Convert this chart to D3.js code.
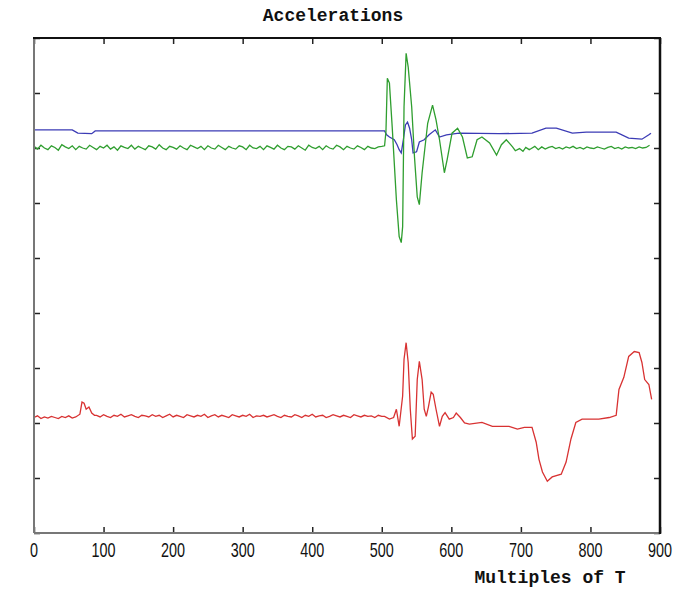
<!DOCTYPE html>
<html>
<head>
<meta charset="utf-8">
<script src="https://cdn.jsdelivr.net/npm/d3@7"></script>
<style>
  html, body { margin: 0; padding: 0; background: #ffffff; }
  svg { display: block; }
</style>
</head>
<body>
<svg id="chart" width="675" height="590"></svg>
<script>
// ---------------- DATA ----------------
const title = "Accelerations";
const xLabel = "Multiples of T";
const xTicks = [0, 100, 200, 300, 400, 500, 600, 700, 800, 900];
const yTicks = [0, 1, 2, 3, 4, 5, 6, 7, 8, 9]; // unlabeled ticks
const xDomain = [0, 900];
const yDomain = [0, 9];

// Blue series: [multiples of T, acceleration]
const blueSeries = [
  [0, 7.33], [55, 7.33], [63, 7.27], [83, 7.26], [88, 7.31], [504, 7.31],
  [507, 7.24], [511, 7.20], [518, 7.15], [522, 7.06], [525, 6.97], [528, 6.91],
  [531, 7.15], [534, 7.42], [537, 7.47], [540, 7.36], [543, 7.15], [545, 6.91],
  [550, 6.93], [554, 7.11], [561, 7.15], [568, 7.24], [577, 7.33], [583, 7.20],
  [593, 7.24], [611, 7.27], [669, 7.26], [716, 7.27], [736, 7.36], [751, 7.36],
  [774, 7.27], [794, 7.29], [837, 7.29], [855, 7.18], [874, 7.16], [884, 7.24],
  [887, 7.27]
];

// Green series: quiet start sampled every 5 T from 0, burst, quiet tail every 5 T from 715
const greenStartStep = 5;
const greenStart = [
  7.03,6.98,7.05,7.00,6.97,7.04,7.01,6.96,7.06,7.02,
  6.99,7.04,6.97,7.03,7.00,6.98,7.05,7.01,6.97,7.03,
  7.00,7.05,6.98,7.02,6.96,7.04,7.01,6.99,7.05,6.98,
  7.03,7.00,6.97,7.04,7.02,6.98,7.06,7.00,6.97,7.03,
  7.01,6.98,7.04,7.00,6.97,7.05,7.02,6.99,7.03,6.97,
  7.04,7.00,6.98,7.05,7.01,6.97,7.03,7.00,6.98,7.04,
  7.02,6.97,7.05,7.00,6.99,7.03,6.97,7.04,7.01,6.98,
  7.05,7.00,6.97,7.03,7.02,6.98,7.04,7.00,6.96,7.05,
  7.01,6.99,7.03,6.97,7.04,7.00,6.98,7.05,7.02,6.97,
  7.03,7.00,6.98,7.04,7.01,6.97,7.03,7.00,6.99,7.02,7.03
];
const greenBurst = [
  [504, 7.04], [506, 7.30], [508, 8.27], [511, 8.18], [515, 7.38], [521, 6.06],
  [525, 5.39], [528, 5.28], [530, 5.57], [532, 7.75], [535, 8.72], [538, 8.47],
  [543, 7.75], [547, 6.84], [551, 6.11], [554, 5.97], [558, 6.55], [566, 7.45],
  [573, 7.78], [578, 7.51], [583, 7.15], [590, 6.55], [594, 6.79], [601, 7.27],
  [609, 7.36], [616, 7.20], [623, 6.82], [630, 6.84], [637, 7.15], [644, 7.20],
  [655, 7.09], [665, 6.87], [672, 7.06], [679, 7.15], [684, 7.08], [688, 7.02],
  [692, 6.95], [698, 6.99], [703, 6.94], [707, 7.01], [712, 6.97]
];
const greenTailStart = 715;
const greenTailStep = 5;
const greenTail = [
  6.99,7.03,6.97,7.02,6.98,7.01,7.03,6.99,7.01,6.98,
  7.02,7.00,7.03,6.99,7.01,6.98,7.02,7.00,6.99,7.02,
  7.00,6.98,7.01,7.03,6.99,7.01,6.98,7.02,7.00,7.01,
  6.99,7.02,7.00,7.01,7.05
];

// Red series: quiet start (0..60 every 5 T), bump, quiet middle (90..500 every 5 T), burst
const redStartStep = 5;
const redStart = [2.10,2.13,2.08,2.11,2.09,2.12,2.10,2.08,2.12,2.10,2.13,2.09,2.11];
const redBump = [[66, 2.16], [69, 2.38], [72, 2.36], [75, 2.25], [79, 2.29], [83, 2.18], [87, 2.14]];
const redMidStart = 90;
const redMidStep = 5;
const redMid = [
  2.14,2.11,2.15,2.12,2.10,2.14,2.12,2.16,2.11,2.13,
  2.15,2.12,2.10,2.14,2.13,2.11,2.15,2.12,2.14,2.10,
  2.13,2.16,2.11,2.14,2.12,2.10,2.15,2.13,2.11,2.14,
  2.12,2.16,2.10,2.13,2.15,2.11,2.14,2.12,2.10,2.15,
  2.13,2.11,2.14,2.12,2.16,2.10,2.13,2.12,2.14,2.11,
  2.13,2.15,2.12,2.10,2.14,2.12,2.11,2.15,2.13,2.10,
  2.14,2.12,2.16,2.11,2.13,2.14,2.10,2.12,2.15,2.13,
  2.11,2.14,2.12,2.10,2.15,2.13,2.11,2.14,2.12,2.13,
  2.10,2.14,2.12
];
const redBurst = [
  [504, 2.12], [511, 2.07], [517, 2.10], [521, 2.25], [525, 1.94], [530, 2.49],
  [532, 3.16], [535, 3.46], [538, 3.10], [541, 2.25], [544, 1.71], [548, 1.76],
  [551, 2.79], [554, 3.12], [558, 2.79], [561, 2.25], [564, 2.12], [567, 2.29],
  [571, 2.56], [574, 2.52], [578, 2.25], [583, 1.94], [587, 2.12], [591, 2.19],
  [597, 2.07], [603, 2.10], [607, 2.18], [613, 2.10], [619, 2.00], [626, 1.98],
  [644, 2.01], [659, 1.94], [683, 1.94], [695, 1.89], [705, 1.92], [716, 1.92],
  [722, 1.65], [726, 1.34], [731, 1.11], [738, 0.94], [745, 1.02], [758, 1.07],
  [765, 1.29], [772, 1.71], [779, 2.01], [788, 2.07], [812, 2.07], [827, 2.10],
  [837, 2.14], [841, 2.61], [848, 2.83], [855, 3.21], [863, 3.30], [870, 3.28],
  [874, 3.10], [878, 2.79], [884, 2.70], [888, 2.43]
];

const colors = { blue: "#3b3bb5", green: "#2f9e2f", red: "#d83232" };

// ---------------- BUILD SERIES ----------------
const greenSeries = greenStart.map((v, i) => [i * greenStartStep, v])
  .concat(greenBurst)
  .concat(greenTail.map((v, i) => [greenTailStart + i * greenTailStep, v]));
const redSeries = redStart.map((v, i) => [i * redStartStep, v])
  .concat(redBump)
  .concat(redMid.map((v, i) => [redMidStart + i * redMidStep, v]))
  .concat(redBurst);

// ---------------- LAYOUT ----------------
const svg = d3.select("#chart");
const plot = { left: 34, right: 660, top: 38, bottom: 533 };

const x = d3.scaleLinear().domain(xDomain).range([plot.left, plot.right]);
const y = d3.scaleLinear().domain(yDomain).range([plot.bottom, plot.top]);

svg.append("defs").append("clipPath").attr("id", "clip")
  .append("rect")
  .attr("x", plot.left).attr("y", plot.top)
  .attr("width", plot.right - plot.left).attr("height", plot.bottom - plot.top);

// Ticks (inward)
const tickLen = 6;
const gBottom = svg.append("g").attr("transform", `translate(0,${plot.bottom})`)
  .call(d3.axisBottom(x).tickValues(xTicks).tickSizeInner(-tickLen).tickSizeOuter(0).tickFormat(""));
const gTop = svg.append("g").attr("transform", `translate(0,${plot.top})`)
  .call(d3.axisTop(x).tickValues(xTicks).tickSizeInner(-tickLen).tickSizeOuter(0).tickFormat(""));
const gLeft = svg.append("g").attr("transform", `translate(${plot.left},0)`)
  .call(d3.axisLeft(y).tickValues(yTicks).tickSizeInner(-tickLen).tickSizeOuter(0).tickFormat(""));
const gRight = svg.append("g").attr("transform", `translate(${plot.right},0)`)
  .call(d3.axisRight(y).tickValues(yTicks).tickSizeInner(-tickLen).tickSizeOuter(0).tickFormat(""));
[gBottom, gTop, gLeft, gRight].forEach(g => {
  g.select(".domain").remove();
  g.selectAll(".tick line").attr("stroke", "#222").attr("stroke-width", 1.5);
});

// Lines
const line = d3.line().x(d => x(d[0])).y(d => y(d[1]));
const lines = svg.append("g").attr("clip-path", "url(#clip)");
lines.append("path").datum(blueSeries)
  .attr("fill", "none").attr("stroke", colors.blue).attr("stroke-width", 1.3).attr("d", line);
lines.append("path").datum(greenSeries)
  .attr("fill", "none").attr("stroke", colors.green).attr("stroke-width", 1.3).attr("d", line);
lines.append("path").datum(redSeries)
  .attr("fill", "none").attr("stroke", colors.red).attr("stroke-width", 1.3).attr("d", line);

// Frame: left & bottom grey, top & right black
svg.append("line").attr("x1", x(xDomain[0])).attr("x2", x(xDomain[0]))
  .attr("y1", y(yDomain[0])).attr("y2", y(yDomain[1]))
  .attr("stroke", "#777").attr("stroke-width", 2);
svg.append("line").attr("x1", x(xDomain[0])).attr("x2", x(xDomain[1]))
  .attr("y1", y(yDomain[0])).attr("y2", y(yDomain[0]))
  .attr("stroke", "#777").attr("stroke-width", 2);
svg.append("line").attr("x1", x(xDomain[0]) - 1).attr("x2", x(xDomain[1]) + 1)
  .attr("y1", y(yDomain[1])).attr("y2", y(yDomain[1]))
  .attr("stroke", "#111").attr("stroke-width", 2);
svg.append("line").attr("x1", x(xDomain[1])).attr("x2", x(xDomain[1]))
  .attr("y1", y(yDomain[1])).attr("y2", y(yDomain[0]) + 1)
  .attr("stroke", "#111").attr("stroke-width", 2.5);

// X tick labels (narrow digits)
svg.append("g").selectAll("text").data(xTicks).join("text")
  .attr("transform", d => `translate(${x(d)},${plot.bottom + 24}) scale(0.72,1)`)
  .attr("text-anchor", "middle")
  .attr("font-family", "'Liberation Sans', Arial, sans-serif")
  .attr("font-size", 20)
  .attr("fill", "#111")
  .text(d => d);

// Title
svg.append("text")
  .attr("x", 333).attr("y", 21)
  .attr("text-anchor", "middle")
  .attr("font-family", "'Liberation Mono', 'Courier New', monospace")
  .attr("font-weight", "bold")
  .attr("font-size", 18)
  .attr("fill", "#111")
  .text(title);

// X axis label
svg.append("text")
  .attr("x", 550).attr("y", 583)
  .attr("text-anchor", "middle")
  .attr("font-family", "'Liberation Mono', 'Courier New', monospace")
  .attr("font-weight", "bold")
  .attr("font-size", 18)
  .attr("fill", "#111")
  .text(xLabel);
</script>
</body>
</html>
